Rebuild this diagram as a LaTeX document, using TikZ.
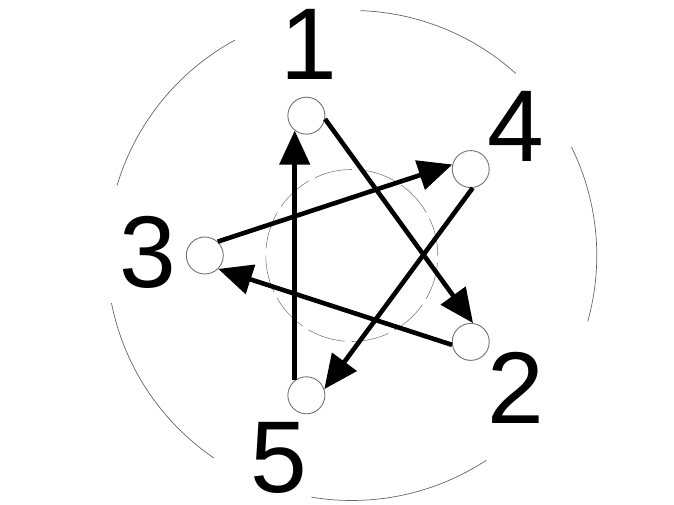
\documentclass[tikz,border=0pt]{standalone}
\usepackage{fontspec}
\setmainfont{Liberation Sans}
\usetikzlibrary{arrows.meta,calc}
\begin{document}
\begin{tikzpicture}[x=1pt,y=1pt,
  pin/.style={circle,draw=black!55,line width=0.9pt,fill=white,minimum size=37pt,inner sep=0pt},
  lbl/.style={inner sep=0pt,font=\fontsize{102}{102}\selectfont},
  edge/.style={line width=4.6pt,-{Triangle[length=34pt,width=30pt]}},
  ring/.style={draw=black!60,line width=0.7pt}]
\useasboundingbox (0,0) rectangle (674,505);
\coordinate (c) at (351.8,249.5);
% outer arcs
\foreach \a/\b in {48/88, 118.5/163.4, 191.2/235.7, 260.5/303.3, -15.6/26.3}
  \draw[ring] ($(c)+(\a:245)$) arc[start angle=\a,end angle=\b,radius=245];
% inner dashed circle
\draw[draw=black!50,line width=0.6pt,dash pattern=on 38pt off 7pt] (c) circle[radius=86];
% pins
\node[pin] (n1) at ($(c)+(108:147)$) {};
\node[pin] (n4) at ($(c)+(36:147)$) {};
\node[pin] (n3) at ($(c)+(180:147)$) {};
\node[pin] (n2) at ($(c)+(-36:147)$) {};
\node[pin] (n5) at ($(c)+(-108:147)$) {};
% labels
\node[lbl] (l1) at (309,461) {1};
\node[lbl] (l4) at (516,378.7) {4};
\node[lbl] (l3) at (148.3,252.5) {3};
\node[lbl] (l2) at (515.8,117.5) {2};
\node[lbl] (l5) at (279,47.5) {5};
% edges
\draw[edge] (n1.-10) -- (n2.83);
\draw[edge] (n2.189) -- (n3.-45);
\draw[edge] (n3.47) -- (n4.166);
\draw[edge] (n4.-84) -- (n5.19);
\draw[edge] (n5.128) -- (n1.-128);
\end{tikzpicture}
\end{document}
